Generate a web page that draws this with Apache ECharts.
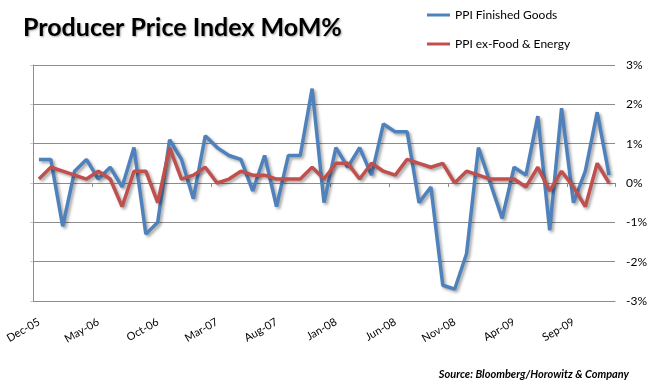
<!DOCTYPE html>
<html>
<head>
<meta charset="utf-8">
<script src="https://cdn.jsdelivr.net/npm/echarts@6/dist/echarts.min.js"></script>
<style>
html,body{margin:0;padding:0;background:#fff;}
#chart{width:659px;height:388px;}
</style>
</head>
<body>
<div id="chart"></div>
<script>
const months = ['Dec-05','Jan-06','Feb-06','Mar-06','Apr-06','May-06','Jun-06','Jul-06','Aug-06','Sep-06','Oct-06','Nov-06',
  'Dec-06','Jan-07','Feb-07','Mar-07','Apr-07','May-07','Jun-07','Jul-07','Aug-07','Sep-07','Oct-07','Nov-07',
  'Dec-07','Jan-08','Feb-08','Mar-08','Apr-08','May-08','Jun-08','Jul-08','Aug-08','Sep-08','Oct-08','Nov-08',
  'Dec-08','Jan-09','Feb-09','Mar-09','Apr-09','May-09','Jun-09','Jul-09','Aug-09','Sep-09','Oct-09','Nov-09','Dec-09'];
const finishedGoods = [0.6,0.6,-1.1,0.3,0.6,0.1,0.4,-0.1,0.9,-1.3,-1.0,1.1,
  0.6,-0.4,1.2,0.9,0.7,0.6,-0.2,0.7,-0.6,0.7,0.7,2.4,
  -0.5,0.9,0.4,0.9,0.2,1.5,1.3,1.3,-0.5,-0.1,-2.6,-2.7,
  -1.8,0.9,0.0,-0.9,0.4,0.2,1.7,-1.2,1.9,-0.5,0.3,1.8,0.2];
const exFoodEnergy = [0.1,0.4,0.3,0.2,0.1,0.3,0.1,-0.6,0.3,0.3,-0.5,0.9,
  0.1,0.2,0.4,0.0,0.1,0.3,0.2,0.2,0.1,0.1,0.1,0.4,
  0.1,0.5,0.5,0.1,0.5,0.3,0.2,0.6,0.5,0.4,0.5,0.0,
  0.3,0.2,0.1,0.1,0.1,-0.1,0.4,-0.2,0.3,-0.1,-0.6,0.5,0.0];
const seriesNames = ['PPI Finished Goods','PPI ex-Food & Energy'];
const yTicks = [-3,-2,-1,0,1,2,3];

const font = 'Lato, "Open Sans", sans-serif';
const grey = '#8c8c8c';
const chart = echarts.init(document.getElementById('chart'));
chart.setOption({
  animation: false,
  backgroundColor: '#fff',
  title: {
    text: 'Producer Price Index MoM%',
    left: 18, top: 10,
    textStyle: {fontFamily: font, fontSize: 25, fontWeight: 'bold', color: '#000',
      textShadowColor: 'rgba(0,0,0,0.35)', textShadowBlur: 2, textShadowOffsetX: 1, textShadowOffsetY: 1}
  },
  legend: {
    orient: 'vertical', left: 422, top: 4, itemGap: 17,
    icon: 'rect', itemWidth: 23, itemHeight: 3,
    textStyle: {fontFamily: font, fontSize: 12, color: '#000'},
    data: seriesNames
  },
  grid: {left: 33, right: 44, top: 65, bottom: 87, containLabel: false},
  xAxis: [{
    type: 'category', data: months, boundaryGap: true, position: 'bottom',
    axisLine: {show: true, onZero: false, lineStyle: {color: grey}},
    axisTick: {show: false},
    axisLabel: {interval: 4, rotate: 30, margin: 20, fontFamily: font, fontSize: 11, color: '#000'},
    splitLine: {show: false}
  }, {
    type: 'category', data: months, boundaryGap: true, position: 'bottom',
    axisLine: {show: true, onZero: true, lineStyle: {color: grey}},
    axisTick: {show: true, interval: 4, length: 4, lineStyle: {color: grey}},
    axisLabel: {show: false},
    splitLine: {show: false}
  }],
  yAxis: [{
    type: 'value', min: -3, max: 3, interval: 1, position: 'left',
    axisLine: {show: true, lineStyle: {color: grey}},
    axisTick: {show: true, length: 3, lineStyle: {color: '#cfcfcf'}},
    axisLabel: {show: false},
    splitLine: {show: true, lineStyle: {color: grey, width: 1}}
  }, {
    type: 'value', min: -3, max: 3, interval: 1, position: 'right',
    axisLine: {show: false}, axisTick: {show: false},
    axisLabel: {margin: 11, fontFamily: font, fontSize: 12, color: '#000',
      formatter: v => yTicks.includes(v) ? v + '%' : ''},
    splitLine: {show: false}
  }],
  series: [{
    name: seriesNames[0], type: 'line', data: finishedGoods, symbol: 'none',
    xAxisIndex: 0, yAxisIndex: 0, color: '#4F81BD',
    lineStyle: {width: 3.5, color: '#4F81BD', shadowColor: 'rgba(0,0,0,0.35)', shadowBlur: 3, shadowOffsetX: 2, shadowOffsetY: 2}
  }, {
    name: seriesNames[1], type: 'line', data: exFoodEnergy, symbol: 'none',
    xAxisIndex: 0, yAxisIndex: 0, color: '#C0504D',
    lineStyle: {width: 3.5, color: '#C0504D', shadowColor: 'rgba(0,0,0,0.35)', shadowBlur: 3, shadowOffsetX: 2, shadowOffsetY: 2}
  }],
  graphic: [{
    type: 'text', right: 30, top: 369,
    style: {text: 'Source: Bloomberg/Horowitz & Company', fontFamily: font, fontSize: 11,
      fontStyle: 'italic', fontWeight: 'bold', fill: '#000'}
  }]
});
</script>
</body>
</html>
